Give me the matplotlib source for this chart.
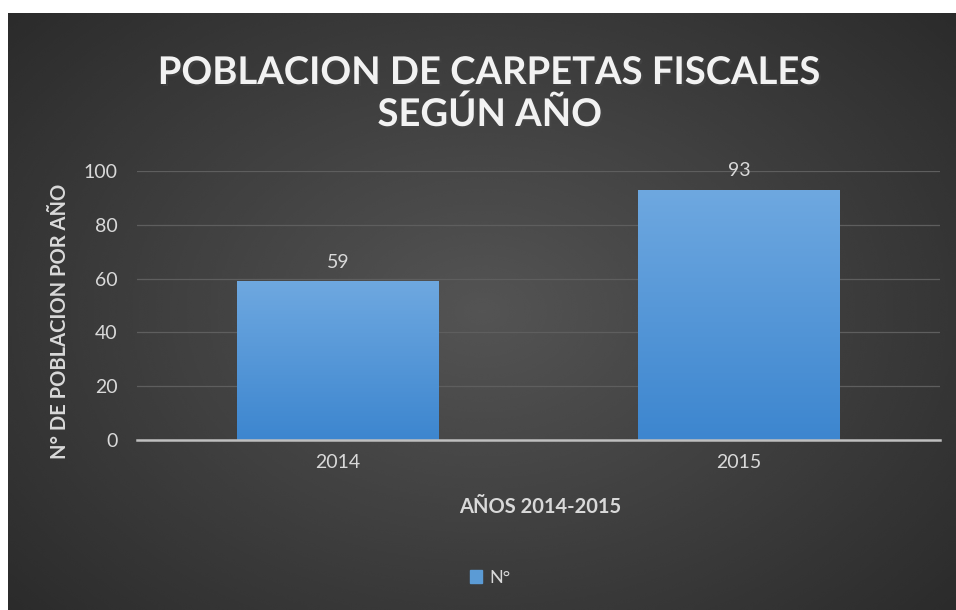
import numpy as np
import matplotlib.pyplot as plt
from matplotlib.patches import Rectangle
from matplotlib.colors import LinearSegmentedColormap
import matplotlib.patheffects as pe

# datos
anios = ["2014", "2015"]
valores = [59, 93]
titulo = "POBLACION DE CARPETAS FISCALES\nSEGÚN AÑO"
etiqueta_x = "AÑOS 2014-2015"
etiqueta_y = "N° DE POBLACION POR AÑO"
serie = "N°"

plt.rcParams['font.family'] = ['Lato', 'DejaVu Sans']
gris = '#d9d9d9'

fig = plt.figure(figsize=(9.56, 6.10), dpi=100, facecolor='white')

# fondo con degradado radial (borde blanco arriba e izquierda)
bg = fig.add_axes([8/956, 0, 1 - 8/956, 1 - 13/610])
bg.set_axis_off()
yy, xx = np.mgrid[0:1:300j, 0:1:400j]
r = np.sqrt(((xx - 0.5) / 0.75) ** 2 + ((yy - 0.5) / 0.85) ** 2)
r = np.clip(r, 0, 1)
img = 0.33 - 0.18 * r
bg.imshow(img, cmap='gray', vmin=0, vmax=1, extent=[0, 1, 0, 1], aspect='auto', interpolation='bicubic')

ax = fig.add_axes([137/956, 1 - 440/610, (940 - 137)/956, (440 - 171)/610])
ax.patch.set_alpha(0)
x = np.arange(len(anios))
barras = ax.bar(x, valores, width=0.503, color='#5b9bd5', zorder=3)

# degradado en las barras
grad = np.linspace(0, 1, 100).reshape(-1, 1)
cm = LinearSegmentedColormap.from_list('b', ['#3d86cf', '#6ea8e0'])
for b in barras:
    x0, w, h = b.get_x(), b.get_width(), b.get_height()
    im = ax.imshow(grad, cmap=cm, extent=[x0, x0 + w, 0, h], origin='lower',
                   aspect='auto', zorder=4)
    im.set_clip_path(b)

for xi, v in zip(x, valores):
    ax.text(xi, v + 4, str(v), ha='center', va='bottom', color=gris, fontsize=14)

ax.set_xlim(-0.5, 1.5)
ax.set_ylim(0, 100)
ax.set_yticks(range(0, 101, 20))
ax.set_xticks(x)
ax.set_xticklabels(anios)
ax.grid(axis='y', color='#5e5e5e', linewidth=0.9, zorder=0)
for s in ['top', 'right', 'left']:
    ax.spines[s].set_visible(False)
ax.spines['bottom'].set_color('#bfbfbf')
ax.spines['bottom'].set_linewidth(1.8)
ax.spines['bottom'].set_zorder(5)
ax.tick_params(axis='both', length=0, colors=gris, labelsize=14)
ax.tick_params(axis='y', pad=14)
ax.tick_params(axis='x', pad=10)

# titulos de ejes
fig.text(540/956, 1 - 507/610, etiqueta_x, ha='center', va='center', color=gris,
         fontsize=14.5, fontweight='bold')
fig.text(60/956, 1 - 321/610, etiqueta_y, ha='center', va='center', color=gris,
         fontsize=14.5, fontweight='bold', rotation=90)

fig.text(490/956, 1 - 94/610, titulo, ha='center', va='center', color='#f2f2f2',
         fontsize=27.5, fontweight='bold', linespacing=1.2,
         path_effects=[pe.withSimplePatchShadow(offset=(1.5, -1.5), alpha=0.5)])

# leyenda
ax.legend([Rectangle((0, 0), 1, 1, color='#5b9bd5')], [serie],
          loc='center', bbox_to_anchor=((490 - 137)/803, -(578 - 440)/269),
          frameon=False, labelcolor=gris, fontsize=13,
          handlelength=0.7, handleheight=0.7, handletextpad=0.4)

plt.savefig("out.png", dpi=100, facecolor='white')
